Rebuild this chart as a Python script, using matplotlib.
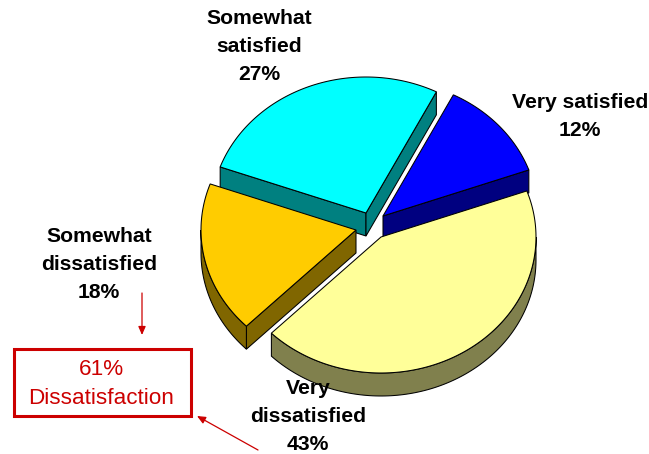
"""Exploded 3D-look satisfaction pie, drawn by hand since matplotlib has no 3D pie."""
import matplotlib
matplotlib.use("Agg")
import matplotlib.pyplot as plt
import numpy as np
from matplotlib.patches import Polygon, Rectangle

labels = ["Very satisfied", "Very dissatisfied", "Somewhat dissatisfied", "Somewhat satisfied"]
values = [12, 43, 18, 27]
combined_pct = 61
combined_label = "Dissatisfaction"

W, H = 649, 454
START_DEG = 63.0
RX, RY = 155.0, 136.0
DEPTH = 23.0
EDGE = 0.75

# slice styling, same order as labels
TOP = ["#0000FF", "#FFFF99", "#FFCC00", "#00FFFF"]
SIDE = ["#000080", "#80804D", "#806600", "#008080"]
CENTRES = [(383, 216), (381, 237), (356, 230), (366, 213)]
TEXT_POS = [(580, 117), (308, 416), (99, 264), (259, 46)]
TEXT_LINES = ["Very satisfied", "Very\ndissatisfied", "Somewhat\ndissatisfied", "Somewhat\nsatisfied"]
DRAW_ORDER = [3, 0, 2, 1]

plt.rcParams["font.family"] = ["Liberation Sans", "DejaVu Sans"]


def arc(cx, cy, a0, a1, n=120):
    t = np.radians(np.linspace(a0, a1, n))
    return np.column_stack([cx + RX * np.cos(t), cy - RY * np.sin(t)])


def extrude(pts):
    return np.vstack([pts, (pts + [0, DEPTH])[::-1]])


def draw_slice(ax, centre, a0, a1, top, side):
    cx, cy = centre
    apex = np.array([[cx, cy]], dtype=float)
    # radial walls, only if their outward normal points down the screen
    if np.cos(np.radians(a0)) < 0:
        ax.add_patch(Polygon(extrude(np.vstack([apex, arc(cx, cy, a0, a0, 1)])), closed=True,
                             facecolor=side, edgecolor="black", lw=EDGE))
    if np.cos(np.radians(a1)) > 0:
        ax.add_patch(Polygon(extrude(np.vstack([apex, arc(cx, cy, a1, a1, 1)])), closed=True,
                             facecolor=side, edgecolor="black", lw=EDGE))
    # outer rim, only the part on the lower half of the ellipse
    f0, f1 = max(a1, -180), min(a0, 0)
    if f1 > f0:
        ax.add_patch(Polygon(extrude(arc(cx, cy, f0, f1)), closed=True,
                             facecolor=side, edgecolor="black", lw=EDGE))
    face = np.vstack([apex, arc(cx, cy, a0, a1)])
    ax.add_patch(Polygon(face, closed=True, facecolor=top, edgecolor="black", lw=EDGE))


def main():
    fig = plt.figure(figsize=(W / 100, H / 100), dpi=100, facecolor="white")
    ax = fig.add_axes([0, 0, 1, 1])
    ax.set_xlim(0, W)
    ax.set_ylim(H, 0)
    ax.axis("off")

    spans = np.array(values) / sum(values) * 360.0
    ends = START_DEG - np.cumsum(spans)
    starts = ends + spans
    for i in DRAW_ORDER:
        draw_slice(ax, CENTRES[i], starts[i], ends[i], TOP[i], SIDE[i])

    for i, v in enumerate(values):
        ax.text(TEXT_POS[i][0], TEXT_POS[i][1], f"{TEXT_LINES[i]}\n{v}%",
                ha="center", va="center", fontsize=15.2, fontweight="bold",
                color="black", linespacing=1.6, zorder=5)

    red = "#CC0000"
    ax.add_patch(Rectangle((13.5, 348.5), 177, 67, fill=False, edgecolor=red, lw=2.2))
    ax.text(101, 384, f"{combined_pct}%\n{combined_label}", ha="center", va="center",
            fontsize=16.2, color=red, linespacing=1.47)
    arrow = dict(arrowstyle="-|>,head_width=0.22,head_length=0.5", color=red, lw=0.9,
                 shrinkA=0, shrinkB=0)
    ax.annotate("", xy=(142, 335), xytext=(142, 293), arrowprops=arrow)
    ax.annotate("", xy=(197, 416), xytext=(258, 450), arrowprops=arrow)

    fig.savefig("out.png", dpi=100)


if __name__ == "__main__":
    main()
